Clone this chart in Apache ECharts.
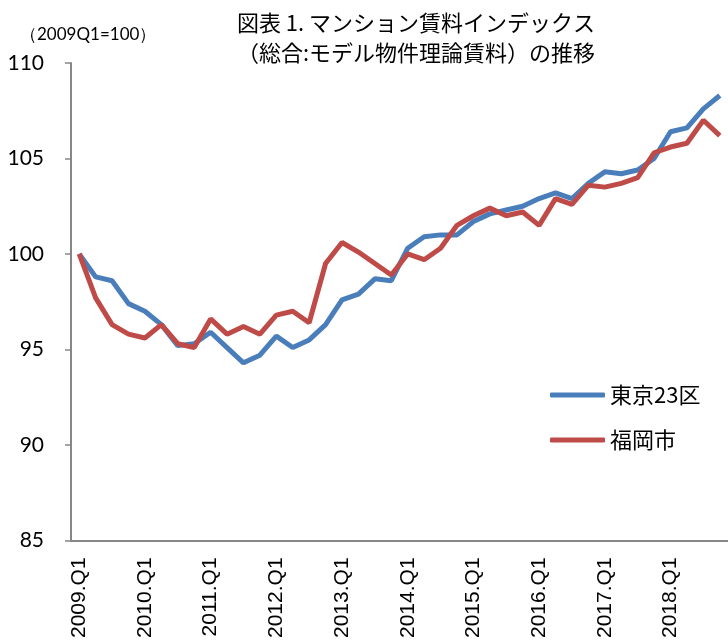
<!DOCTYPE html>
<html>
<head>
    <meta charset="utf-8">
    <title>マンション賃料インデックス</title>
    <script src="https://cdn.jsdelivr.net/npm/echarts@6.0.0/dist/echarts.min.js"></script>
    <style>
        html, body { margin: 0; padding: 0; background: #fff; }
        #chart { width: 728px; height: 641px; }
    </style>
</head>
<body>
    <div id="chart"></div>
    <script>
        // 四半期ラベル 2009.Q1 〜 2018.Q4
        const years = [2009, 2010, 2011, 2012, 2013, 2014, 2015, 2016, 2017, 2018];
        const quarters = [];
        years.forEach(y => { for (let q = 1; q <= 4; q++) quarters.push(y + '.Q' + q); });

        const tokyo = [
            100.0, 98.8, 98.6, 97.4, 97.0, 96.3, 95.2, 95.3, 95.9, 95.1,
            94.3, 94.7, 95.7, 95.1, 95.5, 96.3, 97.6, 97.9, 98.7, 98.6,
            100.3, 100.9, 101.0, 101.0, 101.7, 102.1, 102.3, 102.5, 102.9, 103.2,
            102.9, 103.7, 104.3, 104.2, 104.4, 105.0, 106.4, 106.6, 107.6, 108.3
        ];
        const fukuoka = [
            100.0, 97.7, 96.3, 95.8, 95.6, 96.3, 95.3, 95.1, 96.6, 95.8,
            96.2, 95.8, 96.8, 97.0, 96.4, 99.5, 100.6, 100.1, 99.5, 98.9,
            100.0, 99.7, 100.3, 101.5, 102.0, 102.4, 102.0, 102.2, 101.5, 102.9,
            102.6, 103.6, 103.5, 103.7, 104.0, 105.3, 105.6, 105.8, 107.0, 106.2
        ];
        const seriesNames = ['東京23区', '福岡市'];

        const axisGray = '#878787';
        const chart = echarts.init(document.getElementById('chart'));
        chart.setOption({
            animation: false,
            title: [{
                text: '図表 1. マンション賃料インデックス\n（総合:モデル物件理論賃料）の推移',
                left: 411,
                top: 3,
                textAlign: 'center',
                textStyle: {
                    fontFamily: 'Noto Sans CJK JP',
                    fontSize: 22,
                    fontWeight: 'normal',
                    color: '#000',
                    lineHeight: 30
                }
            }, {
                text: '（2009Q1=100）',
                left: 15,
                top: 21,
                textStyle: {
                    fontFamily: 'Lato',
                    fontSize: 17,
                    fontWeight: 'normal',
                    color: '#000'
                }
            }],
            legend: {
                orient: 'vertical',
                left: 545,
                top: 376,
                icon: 'roundRect',
                itemWidth: 55,
                itemHeight: 5,
                itemGap: 17,
                data: seriesNames,
                textStyle: {
                    fontFamily: 'Noto Sans CJK JP',
                    fontSize: 22,
                    color: '#000',
                    lineHeight: 28
                }
            },
            grid: { left: 71, top: 63, width: 659, height: 479 },
            xAxis: {
                type: 'category',
                data: quarters,
                boundaryGap: true,
                axisLine: { lineStyle: { color: axisGray, width: 2 } },
                axisTick: { interval: 0, length: 5, lineStyle: { color: axisGray, width: 1.5 } },
                axisLabel: {
                    interval: 3,
                    rotate: 90,
                    margin: 17,
                    fontFamily: 'Liberation Sans',
                    fontSize: 21,
                    color: '#000'
                }
            },
            yAxis: {
                type: 'value',
                min: 85,
                max: 110,
                interval: 5,
                axisLine: { show: true, lineStyle: { color: axisGray, width: 2 } },
                axisTick: { show: true, length: 6, lineStyle: { color: axisGray, width: 1.5 } },
                splitLine: { show: false },
                axisLabel: {
                    margin: 27,
                    fontFamily: 'Lato',
                    fontSize: 21,
                    color: '#000'
                }
            },
            series: [{
                name: seriesNames[0],
                type: 'line',
                data: tokyo,
                symbol: 'none',
                lineStyle: { color: '#4a7ebb', width: 5 },
                itemStyle: { color: '#4a7ebb' }
            }, {
                name: seriesNames[1],
                type: 'line',
                data: fukuoka,
                symbol: 'none',
                lineStyle: { color: '#be4b48', width: 5 },
                itemStyle: { color: '#be4b48' }
            }]
        });
    </script>
</body>
</html>
